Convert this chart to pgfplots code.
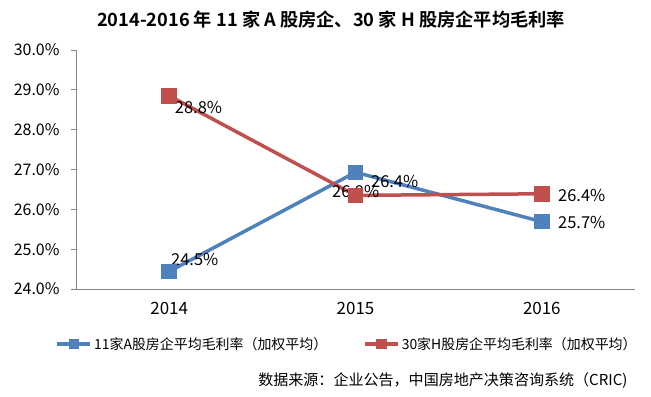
\documentclass[border=0pt]{standalone}
\usepackage{fontspec}
\setmainfont{Noto Sans CJK SC}[BoldFont={Noto Sans CJK SC Bold}]
\usepackage{pgfplots}
\pgfplotsset{compat=1.18}
\definecolor{ablue}{HTML}{4F81BD}
\definecolor{hred}{HTML}{C0504D}
\definecolor{axgray}{HTML}{868686}
\begin{document}
\begin{tikzpicture}
\path[use as bounding box] (0,0) rectangle (651bp,397bp);
\begin{axis}[
  at={(76bp,108bp)}, anchor=south west,
  width=559bp, height=239bp, scale only axis,
  xmin=-0.5, xmax=2.5, ymin=24, ymax=30,
  axis lines*=left,
  axis line style={axgray, line width=0.8pt},
  xtick={0,1,2}, xticklabels={2014,2015,2016},
  x tick label style={font=\fontsize{17}{20}\selectfont, yshift=-5bp},
  major x tick style={draw=none},
  extra x ticks={0.5,1.5,2.5}, extra x tick labels={},
  extra x tick style={major tick length=6bp, tick style={axgray, line width=0.8pt}},
  ytick={24,25,...,30},
  yticklabel={\pgfmathprintnumber[fixed,fixed zerofill,precision=1]{\tick}\%},
  /pgf/number format/assume math mode=true,
  y tick label style={font=\fontsize{16}{19}\selectfont, xshift=-8bp},
  tick align=outside,
  major tick length=5bp,
  tick style={axgray, line width=0.8pt},
  legend columns=2,
  legend style={draw=none, fill=none, at={(0.485,-0.23)}, anchor=center,
    font=\fontsize{14}{17}\selectfont, /tikz/every even column/.append style={column sep=34bp}},
  legend image code/.code={\draw[#1, mark repeat=2, mark phase=2, mark size=3.5bp] plot coordinates {(0bp,0bp)(16.5bp,0bp)(33bp,0bp)};},
  clip=false,
]
\addplot[ablue, line width=3.5bp, mark=square*, mark size=6bp, mark options={solid}] coordinates {(0,24.44) (1,26.93) (2,25.69)};
\addlegendentry{11家A股房企平均毛利率（加权平均）}
\addplot[hred, line width=3.5bp, mark=square*, mark size=6bp, mark options={solid}] coordinates {(0,28.85) (1,26.35) (2,26.39)};
\addlegendentry{30家H股房企平均毛利率（加权平均）}
\begin{scope}[every node/.style={font=\fontsize{16.5}{19}\selectfont, inner sep=0pt, anchor=west}]
\node at (axis cs:0.03,28.55) {28.8\%};
\node at (axis cs:0.01,24.75) {24.5\%};
\node at (axis cs:0.874,26.44) {26.9\%};
\node at (axis cs:1.083,26.69) {26.4\%};
\node at (axis cs:2.087,26.36) {26.4\%};
\node at (axis cs:2.087,25.66) {25.7\%};
\end{scope}
\end{axis}
\node[font=\bfseries\fontsize{18.3}{21}\selectfont] at (331bp,377bp) {2014-2016 年 11 家 A 股房企、30 家 H 股房企平均毛利率};
\node[font=\fontsize{15.1}{18}\selectfont, anchor=east] at (631bp,16bp) {数据来源：企业公告，中国房地产决策咨询系统（CRIC)};
\end{tikzpicture}
\end{document}
